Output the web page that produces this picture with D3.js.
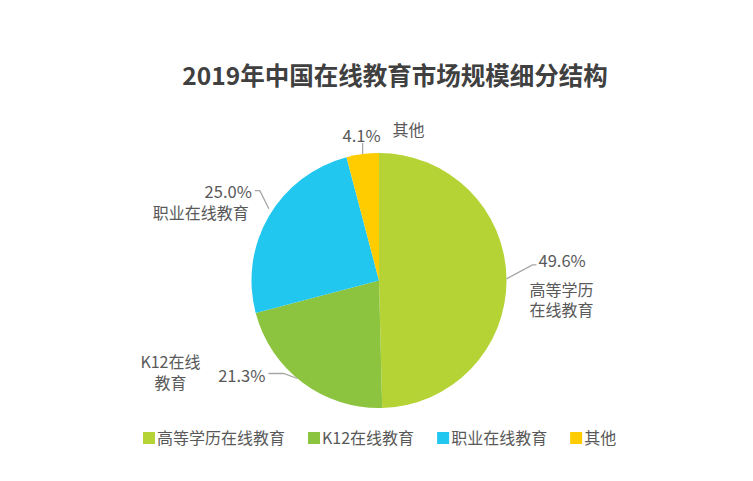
<!DOCTYPE html>
<html>
<head>
<meta charset="utf-8">
<title>2019年中国在线教育市场规模细分结构</title>
<style>
  body { margin: 0; background: #fff; }
  svg text { font-family: "Noto Sans CJK SC", "Noto Sans", sans-serif; }
</style>
</head>
<body>
<div id="chart"></div>
<script src="https://cdn.jsdelivr.net/npm/d3@7"></script>
<script>
// data
var categories = ["高等学历在线教育", "K12在线教育", "职业在线教育", "其他"];
var shares = [49.6, 21.3, 25.0, 4.1];
var colors = ["#b5d334", "#8cc43f", "#22c7ef", "#ffcc00"];
// label text shown next to each slice (split into lines)
var labelLines = [["高等学历", "在线教育"], ["K12在线", "教育"], ["职业在线教育"], ["其他"]];

var width = 753, height = 481;
var cx = 379, cy = 280.5, r = 127.5;

var svg = d3.select("#chart").append("svg")
    .attr("width", width)
    .attr("height", height);

svg.append("text")
    .attr("x", 395)
    .attr("y", 85)
    .attr("text-anchor", "middle")
    .attr("font-size", 24.5)
    .attr("font-weight", "bold")
    .attr("fill", "#404040")
    .text("2019年中国在线教育市场规模细分结构");

var pie = d3.pie().sort(null).value(function(d) { return d; });
var arc = d3.arc().innerRadius(0).outerRadius(r);
var arcs = pie(shares);

var g = svg.append("g").attr("transform", "translate(" + cx + "," + cy + ")");

g.selectAll("path")
    .data(arcs)
    .enter().append("path")
    .attr("d", arc)
    .attr("fill", function(d, i) { return colors[i]; });

// leader line layout per slice: angle tweak, gap from edge, elbow offset, horizontal run
var leader = [
  { da: 0,    gap: 0, dx: 26,  dy: -14, h: 4 },
  { da: 0.05, gap: 0, dx: -14, dy: -5,  h: -15 },
  { da: 0.05, gap: 4, dx: -9,  dy: -18, h: -5 },
  { da: 0,    gap: 0, dx: 0,   dy: -11, h: 0 }
];
// text placement relative to the end of the leader line
var textPos = [
  { pct: [2, -4, "start"], lab: [-7, 31, "start"], lh: 20 },
  { pct: [-3, 2, "end"],   lab: [-98, -6, "middle"], lh: 21 },
  { pct: [-3, 1, "end"],   lab: [-6, 28, "end"], lh: 19 },
  { pct: [18, -7, "end"],  lab: [30, -7, "start"], lh: 19 }
];

var labels = g.selectAll(".lab")
    .data(arcs)
    .enter().append("g")
    .attr("class", "lab");

labels.each(function(d, i) {
  var sel = d3.select(this);
  var L = leader[i], T = textPos[i];
  var a = (d.startAngle + d.endAngle) / 2 + L.da;
  var rr = r + L.gap;
  var p0 = [rr * Math.sin(a), -rr * Math.cos(a)];
  var p1 = [p0[0] + L.dx, p0[1] + L.dy];
  var p2 = [p1[0] + L.h, p1[1]];
  sel.append("polyline")
      .attr("points", [p0, p1, p2].map(function(p) { return p.join(","); }).join(" "))
      .attr("fill", "none")
      .attr("stroke", "#a6a6a6")
      .attr("stroke-width", 1.3);
  sel.append("text")
      .attr("x", p2[0] + T.pct[0])
      .attr("y", p2[1] + T.pct[1] + 6)
      .attr("text-anchor", T.pct[2])
      .attr("font-size", 16.5)
      .attr("fill", "#595959")
      .text(d3.format(".1f")(shares[i]) + "%");
  var t = sel.append("text")
      .attr("text-anchor", T.lab[2])
      .attr("font-size", 16)
      .attr("fill", "#595959");
  labelLines[i].forEach(function(line, k) {
    t.append("tspan")
        .attr("x", p2[0] + T.lab[0])
        .attr("y", p2[1] + T.lab[1] + k * T.lh)
        .text(line);
  });
});

// legend
var legend = svg.append("g").attr("transform", "translate(143,432)");
var lx = 0;
categories.forEach(function(c, i) {
  var item = legend.append("g").attr("transform", "translate(" + lx + ",0)");
  item.append("rect")
      .attr("width", 12)
      .attr("height", 12)
      .attr("fill", colors[i]);
  var txt = item.append("text")
      .attr("x", 14)
      .attr("y", 12)
      .attr("font-size", 16)
      .attr("fill", "#595959")
      .text(c);
  lx += 14 + txt.node().getComputedTextLength() + 23;
});
</script>
</body>
</html>
